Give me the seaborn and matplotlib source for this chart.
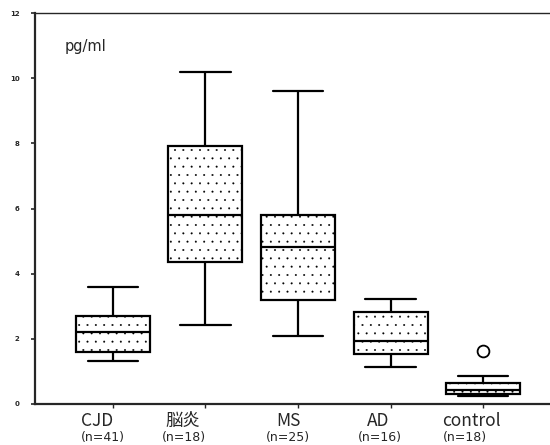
import matplotlib
matplotlib.use("Agg")
import matplotlib.pyplot as plt
import matplotlib.transforms as mtransforms
import seaborn as sns
import pandas as pd
import numpy as np

# --- data (five-number summaries, pg/ml) ---
groups = ["CJD", "脳炎", "MS", "AD", "control"]
n_labels = ["(n=41)", "(n=18)", "(n=25)", "(n=16)", "(n=18)"]
whisker_low = [1.32, 2.42, 2.09, 1.14, 0.25]
q1 = [1.60, 4.36, 3.19, 1.53, 0.31]
median = [2.21, 5.80, 4.82, 1.93, 0.43]
q3 = [2.70, 7.92, 5.80, 2.82, 0.64]
whisker_high = [3.59, 10.19, 9.61, 3.22, 0.86]
outlier_group = ["control"]
outlier_value = [1.63]
y_ticks = [0, 2, 4, 6, 8, 10, 12]

# long table: with 5 values per group the quartiles are exactly q1/median/q3
rows = []
for i, g in enumerate(groups):
    for v in (whisker_low[i], q1[i], median[i], q3[i], whisker_high[i]):
        rows.append({"group": g, "value": v})
df = pd.DataFrame(rows)
out_df = pd.DataFrame({"group": outlier_group, "value": outlier_value})

sns.set_style("ticks")
plt.rcParams["font.family"] = ["Noto Sans CJK JP", "DejaVu Sans"]
plt.rcParams["hatch.linewidth"] = 0.2

fig = plt.figure(figsize=(5.5, 4.45), dpi=100)
ax = fig.add_axes([35 / 550, 1 - 404 / 445, 1 - 35 / 550, (404 - 13) / 445])

sns.boxplot(data=df, x="group", y="value", order=groups, ax=ax,
            color="white", linecolor="black", linewidth=1.6,
            width=0.8, whis=1.5, capwidths=0.55, fliersize=0)
for patch in ax.patches:
    patch.set_hatch("..")

sns.stripplot(data=out_df, x="group", y="value", order=groups, ax=ax,
              jitter=False, marker="o", size=8.5, color="white",
              edgecolor="black", linewidth=1.3)

ax.set_xlim(-0.843, 4.724)
ax.set_ylim(0, 12)
ax.set_yticks(y_ticks)
ax.set_yticklabels([str(t) for t in y_ticks], fontsize=5, fontweight="bold",
                   family="DejaVu Sans")
ax.tick_params(axis="y", length=3, width=1.2, pad=8)
ax.tick_params(axis="x", length=3, width=1, direction="out", labelbottom=False)
ax.set_xlabel("")
ax.set_ylabel("")

ax.spines["right"].set_visible(False)
ax.spines["left"].set_linewidth(1.6)
ax.spines["bottom"].set_linewidth(1.6)
ax.spines["top"].set_linewidth(1.0)
ax.spines["top"].set_linestyle((0, (6, 1)))

# category labels (two lines, second smaller)
trans = mtransforms.blended_transform_factory(ax.transData, fig.transFigure)
name_shift = [-0.17, -0.24, -0.10, -0.13, -0.13]
n_shift = [-0.11, -0.23, -0.11, -0.12, -0.20]
for i, g in enumerate(groups):
    ax.text(i + name_shift[i], 1 - 421 / 445, g, transform=trans,
            ha="center", va="center", fontsize=12.5)
    ax.text(i + n_shift[i], 1 - 438 / 445, n_labels[i], transform=trans,
            ha="center", va="center", fontsize=9, family="DejaVu Sans")

ax.text(65 / 550, 1 - 47 / 445, "pg/ml", transform=fig.transFigure,
        ha="left", va="center", fontsize=10.5, family="DejaVu Sans")

fig.savefig("out.png", dpi=100)
